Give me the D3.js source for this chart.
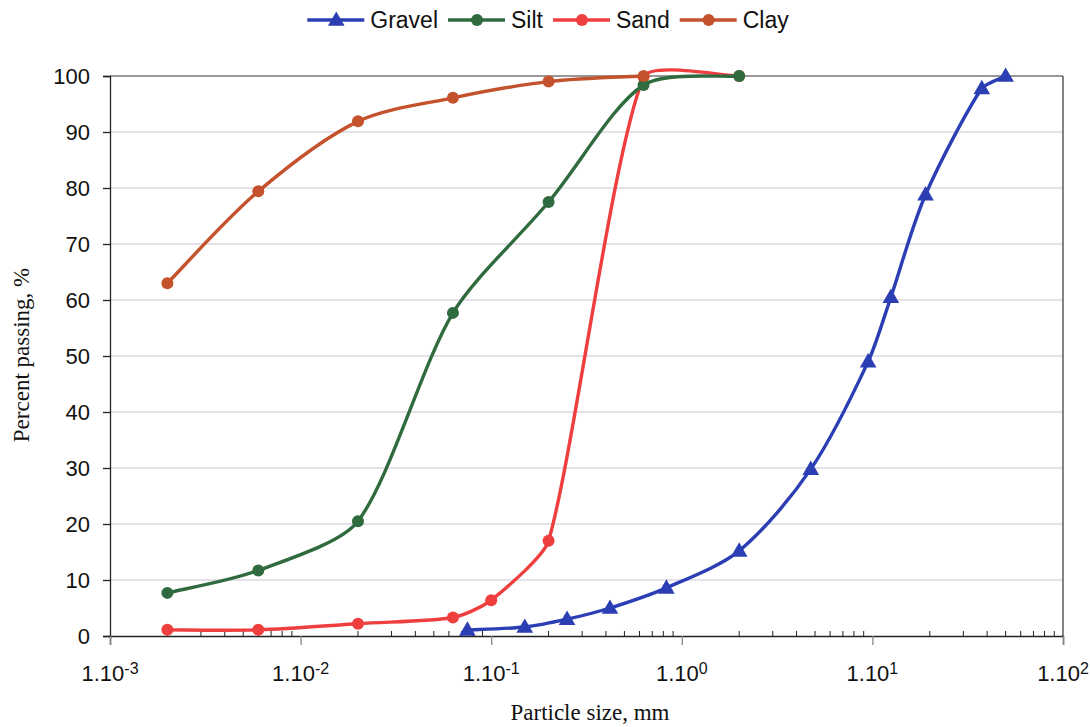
<!DOCTYPE html>
<html>
<head>
<script src="https://cdn.jsdelivr.net/npm/d3@7"></script>
<style>
  body { margin: 0; background: #fff; }
  svg { display: block; }
  .tick text { font-family: "Liberation Sans", Arial, sans-serif; font-size: 22px; fill: #111; }
</style>
</head>
<body>
<svg width="1090" height="727"></svg>
<script>
// particle sizes (mm) and percent passing
const gravelSize = [0.075, 0.15, 0.25, 0.42, 0.83, 2.0, 4.75, 9.5, 12.5, 19, 37.5, 50];
const gravelPass = [1.1, 1.6, 3.0, 5.0, 8.6, 15.2, 29.8, 49.0, 60.5, 78.8, 97.8, 100];

const siltSize = [0.002, 0.006, 0.02, 0.063, 0.2, 0.63, 2.0];
const siltPass = [7.7, 11.7, 20.5, 57.7, 77.5, 98.4, 100];

const sandSize = [0.002, 0.006, 0.02, 0.063, 0.1, 0.2, 0.63, 2.0];
const sandPass = [1.1, 1.1, 2.2, 3.3, 6.4, 17.0, 99.8, 100];

const claySize = [0.002, 0.006, 0.02, 0.063, 0.2, 0.63];
const clayPass = [63.0, 79.4, 91.9, 96.1, 99.0, 100];

const yTicks = [0, 10, 20, 30, 40, 50, 60, 70, 80, 90, 100];
const xMajor = [1e-3, 1e-2, 1e-1, 1e0, 1e1, 1e2];
const xExp = ["-3", "-2", "-1", "0", "1", "2"];

const series = [
  { name: "Gravel", size: gravelSize, pass: gravelPass, color: "#2b3eb3", marker: "tri" },
  { name: "Sand", size: sandSize, pass: sandPass, color: "#ee3e3e", marker: "dot" },
  { name: "Silt", size: siltSize, pass: siltPass, color: "#2f6b3e", marker: "dot" },
  { name: "Clay", size: claySize, pass: clayPass, color: "#c4522d", marker: "dot" }
];
const legendOrder = ["Gravel", "Silt", "Sand", "Clay"];

const svg = d3.select("svg");
const plotL = 110, plotR = 1063, plotT = 76, plotB = 636;

const x = d3.scaleLog().domain([1e-3, 1e2]).range([plotL, plotR]);
const y = d3.scaleLinear().domain([0, 100]).range([plotB, plotT]);

// grid lines
svg.append("g")
  .selectAll("line")
  .data(yTicks.filter(d => d > 0 && d < 100))
  .enter()
  .append("line")
    .attr("x1", plotL).attr("x2", plotR)
    .attr("y1", d => y(d)).attr("y2", d => y(d))
    .attr("stroke", "#c9c6d2").attr("stroke-width", 1.2);

// top and right border
svg.append("line").attr("x1", plotL).attr("x2", plotR).attr("y1", y(100)).attr("y2", y(100))
  .attr("stroke", "#333").attr("stroke-width", 1.2);
svg.append("line").attr("x1", plotR).attr("x2", plotR).attr("y1", plotT).attr("y2", plotB)
  .attr("stroke", "#333").attr("stroke-width", 1.2);

// y axis
const yAxis = svg.append("g")
  .attr("transform", `translate(${plotL},0)`)
  .call(d3.axisLeft(y).tickValues(yTicks).tickSize(7).tickPadding(13).tickFormat(d3.format("d")));
yAxis.selectAll("line, path").attr("stroke", "#222").attr("stroke-width", 1.3);
yAxis.selectAll("text").attr("dy", "0.36em");

// x axis, major ticks point down
const xAxis = svg.append("g")
  .attr("transform", `translate(0,${plotB})`)
  .call(d3.axisBottom(x).tickValues(xMajor).tickSize(9).tickFormat(""));
xAxis.select(".domain").attr("stroke", "#222").attr("stroke-width", 1.4);
xAxis.selectAll(".tick line").attr("stroke", "#888").attr("stroke-width", 1.3);

// minor ticks point up
const minor = [];
for (let e = -3; e < 2; e++) {
  for (let m = 2; m <= 9; m++) minor.push(m * Math.pow(10, e));
}
svg.append("g")
  .selectAll("line")
  .data(minor)
  .enter()
  .append("line")
    .attr("x1", d => x(d)).attr("x2", d => x(d))
    .attr("y1", plotB).attr("y2", plotB - 5)
    .attr("stroke", "#222").attr("stroke-width", 1);

// x tick labels 1.10^n
const xl = svg.append("g")
  .selectAll("text")
  .data(xMajor)
  .enter()
  .append("text")
    .attr("x", d => x(d))
    .attr("y", 681)
    .attr("text-anchor", "middle")
    .attr("font-family", "Liberation Sans, Arial, sans-serif")
    .attr("font-size", 22)
    .attr("fill", "#111");
xl.append("tspan").text("1.10");
xl.append("tspan")
  .attr("dy", -7)
  .attr("font-size", 16)
  .text((d, i) => xExp[i]);

// axis titles
svg.append("text")
  .attr("x", 590).attr("y", 720)
  .attr("text-anchor", "middle")
  .attr("font-family", "Liberation Serif, 'Times New Roman', serif")
  .attr("font-size", 23)
  .attr("fill", "#111")
  .text("Particle size, mm");

svg.append("text")
  .attr("transform", "translate(29,355) rotate(-90)")
  .attr("text-anchor", "middle")
  .attr("font-family", "Liberation Serif, 'Times New Roman', serif")
  .attr("font-size", 23)
  .attr("fill", "#111")
  .text("Percent passing, %");

// smoothing like a spreadsheet: catmull-rom handles, shortened next to short segments
function smoothCurve(context) {
  let pts;
  return {
    areaStart() {}, areaEnd() {},
    lineStart() { pts = []; },
    point(px, py) { pts.push([+px, +py]); },
    lineEnd() {
      const n = pts.length;
      if (!n) return;
      context.moveTo(pts[0][0], pts[0][1]);
      const dist = (a, b) => Math.hypot(b[0] - a[0], b[1] - a[1]);
      const tan = pts.map((p, i) => {
        const a = pts[Math.max(i - 1, 0)], b = pts[Math.min(i + 1, n - 1)];
        return [(b[0] - a[0]) / 6, (b[1] - a[1]) / 6];
      });
      for (let i = 0; i < n - 1; i++) {
        const p = pts[i], q = pts[i + 1];
        const dThis = dist(p, q);
        const dBefore = i > 0 ? dist(pts[i - 1], p) : dThis;
        const dAfter = i < n - 2 ? dist(q, pts[i + 2]) : dThis;
        const s1 = Math.min(1, dThis / dBefore);
        const s2 = Math.min(1, dThis / dAfter);
        context.bezierCurveTo(
          p[0] + tan[i][0] * s1, p[1] + tan[i][1] * s1,
          q[0] - tan[i + 1][0] * s2, q[1] - tan[i + 1][1] * s2,
          q[0], q[1]);
      }
    }
  };
}

const line = d3.line()
  .x(d => x(d[0]))
  .y(d => y(d[1]))
  .curve(smoothCurve);

const tri = d3.symbol().type(d3.symbolTriangle).size(120);

function drawMarker(g, m, color) {
  if (m === "tri") {
    g.append("path").attr("d", tri).attr("fill", color).attr("transform", "translate(0,1)");
  } else {
    g.append("circle").attr("r", 6).attr("fill", color);
  }
}

series.forEach(s => {
  const pts = s.size.map((v, i) => [v, s.pass[i]]);
  svg.append("path")
    .datum(pts)
    .attr("d", line)
    .attr("fill", "none")
    .attr("stroke", s.color)
    .attr("stroke-width", 3.4);
  svg.append("g")
    .selectAll("g")
    .data(pts)
    .enter()
    .append("g")
      .attr("transform", d => `translate(${x(d[0])},${y(d[1])})`)
      .each(function() { drawMarker(d3.select(this), s.marker, s.color); });
});

// legend
const legend = svg.append("g");
let lx = 0;
legendOrder.forEach(name => {
  const s = series.find(d => d.name === name);
  const g = legend.append("g").attr("transform", `translate(${lx},0)`);
  g.append("line").attr("x1", 0).attr("x2", 57).attr("y1", 0).attr("y2", 0)
    .attr("stroke", s.color).attr("stroke-width", 3.4);
  const mg = g.append("g").attr("transform", "translate(29,0)");
  drawMarker(mg, s.marker, s.color);
  const t = g.append("text")
    .attr("x", 63).attr("y", 8)
    .attr("font-family", "Liberation Sans, Arial, sans-serif")
    .attr("font-size", 23)
    .attr("fill", "#111")
    .text(name);
  lx += 63 + t.node().getComputedTextLength() + 10;
});
const legendW = lx - 10;
legend.attr("transform", `translate(${548 - legendW / 2},20)`);
</script>
</body>
</html>
